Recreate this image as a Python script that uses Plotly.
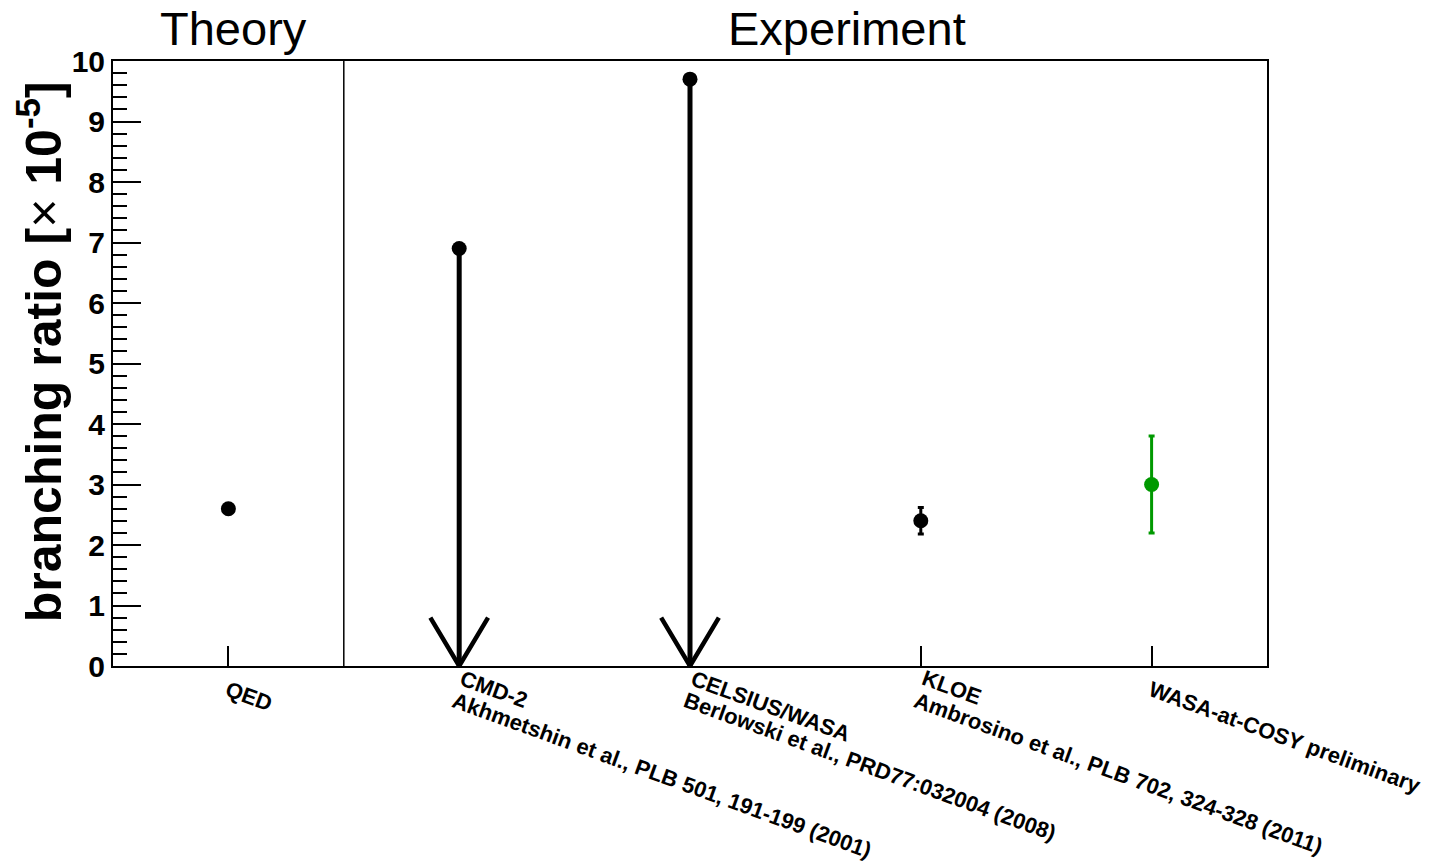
import math
import plotly.graph_objects as go

# Measurements of the branching ratio (in units of 1e-5)
names = ["QED", "CMD-2", "CELSIUS/WASA", "KLOE", "WASA-at-COSY preliminary"]
references = [
    "",
    "Akhmetshin et al., PLB 501, 191-199 (2001)",
    "Berlowski et al., PRD77:032004 (2008)",
    "Ambrosino et al., PLB 702, 324-328 (2011)",
    "",
]
values = [2.6, 6.9, 9.7, 2.4, 3.0]
errors = [0.0, 0.0, 0.0, 0.22, 0.8]
is_upper_limit = [False, True, True, False, False]
colors = ["black", "black", "black", "black", "#009900"]

positions = [i + 0.5 for i in range(len(names))]

FONT = "Liberation Sans, Arial, sans-serif"
HEAD_HALF_WIDTH = 0.125   # arrow head half width (x units)
HEAD_HEIGHT = 0.8         # arrow head height (y units)

fig = go.Figure()

for x, v, e, ul, c in zip(positions, values, errors, is_upper_limit, colors):
    if ul:
        # upper limit: vertical line down to zero with an open arrow head
        fig.add_trace(go.Scatter(
            x=[x, x], y=[v, 0], mode="lines",
            line=dict(color=c, width=5), showlegend=False, hoverinfo="skip"))
        fig.add_trace(go.Scatter(
            x=[x - HEAD_HALF_WIDTH, x, x + HEAD_HALF_WIDTH],
            y=[HEAD_HEIGHT, 0, HEAD_HEIGHT], mode="lines",
            line=dict(color=c, width=4.5), showlegend=False, hoverinfo="skip",
            cliponaxis=False))
        fig.add_trace(go.Scatter(
            x=[x], y=[v], mode="markers",
            marker=dict(color=c, size=15), showlegend=False))
    else:
        fig.add_trace(go.Scatter(
            x=[x], y=[v], mode="markers",
            marker=dict(color=c, size=15),
            error_y=dict(type="data", array=[e], visible=e > 0,
                         color=c, thickness=3, width=3),
            showlegend=False))

# separator between theory and experiment
fig.add_shape(type="line", xref="x", yref="y", x0=1, x1=1, y0=0, y1=10,
              line=dict(color="black", width=1.5))

# rotated category labels (two-line labels are centred on the tick)
ANGLE = 20
LINE_STEP = 23        # px between lines, perpendicular to the text
LABEL_DX, LABEL_DY = -8.5, 8
sa, ca = math.sin(math.radians(ANGLE)), math.cos(math.radians(ANGLE))
for x, name, ref in zip(positions, names, references):
    lines = [name] + ([ref] if ref else [])
    n = len(lines)
    for k, txt in enumerate(lines):
        kc = k - (n - 1) / 2
        dx = LABEL_DX - kc * LINE_STEP * sa
        dy = LABEL_DY + kc * LINE_STEP * ca
        fig.add_annotation(
            text=txt, x=x, y=0, xref="x", yref="y", xanchor="left",
            yanchor="top", xshift=dx, yshift=-dy, textangle=ANGLE,
            showarrow=False,
            font=dict(family=FONT, size=22, color="black", weight="bold"))

fig.update_xaxes(
    range=[0, 5], tickmode="array", tickvals=positions, showticklabels=False,
    ticks="inside", ticklen=20, tickwidth=1.5, tickcolor="black",
    showline=True, linecolor="black", linewidth=2, mirror=True,
    showgrid=False, zeroline=False, automargin=False,
)
fig.update_yaxes(
    range=[0, 10], dtick=1, ticks="inside", ticklen=28, tickwidth=1.5,
    tickcolor="black",
    minor=dict(dtick=0.2, ticks="inside", ticklen=14, tickwidth=1.5,
               tickcolor="black", showgrid=False),
    tickfont=dict(family=FONT, size=30, color="black", weight="bold"),
    showline=True, linecolor="black", linewidth=2, mirror=True,
    showgrid=False, zeroline=False, automargin=False,
)

fig.add_annotation(
    text="branching ratio [<span style='font-weight:normal'>×</span> 10<sup>-5</sup>]",
    xref="paper", yref="paper", x=-0.0625, y=0.52, textangle=-90,
    xanchor="center", yanchor="middle", showarrow=False,
    font=dict(family=FONT, size=50, color="black", weight="bold"))

fig.add_annotation(text="Theory", xref="paper", yref="paper",
                   x=(233 - 113) / 1154, y=1.0, yshift=33, xanchor="center",
                   yanchor="middle", showarrow=False,
                   font=dict(family=FONT, size=47, color="black"))
fig.add_annotation(text="Experiment", xref="paper", yref="paper",
                   x=(847 - 113) / 1154, y=1.0, yshift=33, xanchor="center",
                   yanchor="middle", showarrow=False,
                   font=dict(family=FONT, size=47, color="black"))

fig.update_layout(
    width=1430, height=864,
    margin=dict(l=113, r=163, t=61, b=198),
    plot_bgcolor="white", paper_bgcolor="white",
)

fig.write_html("out.html")
